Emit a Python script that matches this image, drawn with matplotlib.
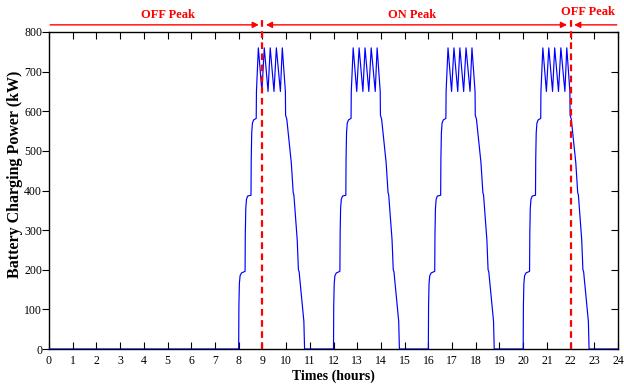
# Battery charging power over one day with OFF/ON peak periods
import matplotlib.pyplot as plt

plt.rcParams['font.family'] = ['Liberation Serif', 'DejaVu Serif']

cycle_starts = [8, 12, 16, 20]  # hours where a charging cycle begins
# one charging cycle: hours after the start, kW
profile_offset = [0.00, 0.01, 0.03, 0.06, 0.12, 0.27, 0.28, 0.30, 0.33, 0.38, 0.52,
                  0.53, 0.55, 0.58, 0.63, 0.74, 0.75, 0.83, 0.98, 1.08, 1.24, 1.33,
                  1.49, 1.59, 1.76, 1.84, 1.97, 1.98, 2.03, 2.22, 2.30, 2.33, 2.47,
                  2.52, 2.55, 2.75, 2.78]
profile_kw = [0, 110, 165, 185, 192, 196, 290, 355, 378, 386, 388,
              480, 545, 570, 578, 582, 650, 760, 650, 760, 650, 760,
              650, 760, 650, 760, 650, 590, 580, 470, 395, 388, 275,
              200, 195, 70, 0]
peak_start = 9    # ON peak begins
peak_end = 22     # ON peak ends
x_ticks = list(range(0, 25))
y_ticks = [0, 100, 200, 300, 400, 500, 600, 700, 800]

t = [0]
p = [0]
for s in cycle_starts:
    t += [s + o for o in profile_offset]
    p += profile_kw
t.append(24)
p.append(0)

fig = plt.figure(figsize=(6.24, 3.88), dpi=100)
ax = fig.add_axes([49 / 624, 1 - 349 / 388, 569 / 624, 317 / 388])

ax.plot(t, p, color='#0000ff', lw=0.85, zorder=3)

for xv in [peak_start, peak_end]:
    ax.plot([xv, xv], [0, 840], color='#ff0000', lw=1.6, ls=(0, (3, 2)),
            clip_on=False, zorder=4)

ya = 818
red = '#ff0000'
arr = dict(arrowstyle='-|>', color=red, lw=1.0, mutation_scale=9, shrinkA=0, shrinkB=0)
arr2 = dict(arrowstyle='<|-|>', color=red, lw=1.0, mutation_scale=9, shrinkA=0, shrinkB=0)
ax.annotate('', xy=(peak_start - 0.15, ya), xytext=(0.05, ya),
            arrowprops=arr, annotation_clip=False)
ax.annotate('', xy=(peak_start + 0.15, ya), xytext=(peak_end - 0.15, ya),
            arrowprops=arr2, annotation_clip=False)
ax.annotate('', xy=(peak_end + 0.15, ya), xytext=(23.95, ya),
            arrowprops=arr, annotation_clip=False)

ax.text(5.0, 843, 'OFF Peak', color=red, fontsize=9, fontweight='bold',
        ha='center', va='center', clip_on=False)
ax.text(15.3, 843, 'ON Peak', color=red, fontsize=9, fontweight='bold',
        ha='center', va='center', clip_on=False)
ax.text(22.75, 850, 'OFF Peak', color=red, fontsize=9, fontweight='bold',
        ha='center', va='center', clip_on=False)

ax.set_xlim(0, 24)
ax.set_ylim(0, 800)
ax.set_xticks(x_ticks)
ax.set_yticks(y_ticks)
ax.tick_params(axis='x', direction='in', top=True, length=5, width=0.8,
               labelsize=8.5, pad=4)
ax.tick_params(axis='y', direction='out', length=5, width=0.8, labelsize=8.5, pad=0)
ax.tick_params(axis='y', which='major', right=True)
for tk in ax.yaxis.get_major_ticks():
    tk.tick2line.set_marker(0)  # inward tick on right side
    tk.tick2line.set_markersize(5)
for sp in ax.spines.values():
    sp.set_linewidth(1.0)

ax.set_xlabel('Times (hours)', fontsize=10, fontweight='bold', labelpad=2)
ax.set_ylabel('Battery Charging Power (kW)', fontsize=11.5, fontweight='bold')
ax.yaxis.set_label_coords(-0.046, 0.55)

fig.savefig('out.png', dpi=100)
